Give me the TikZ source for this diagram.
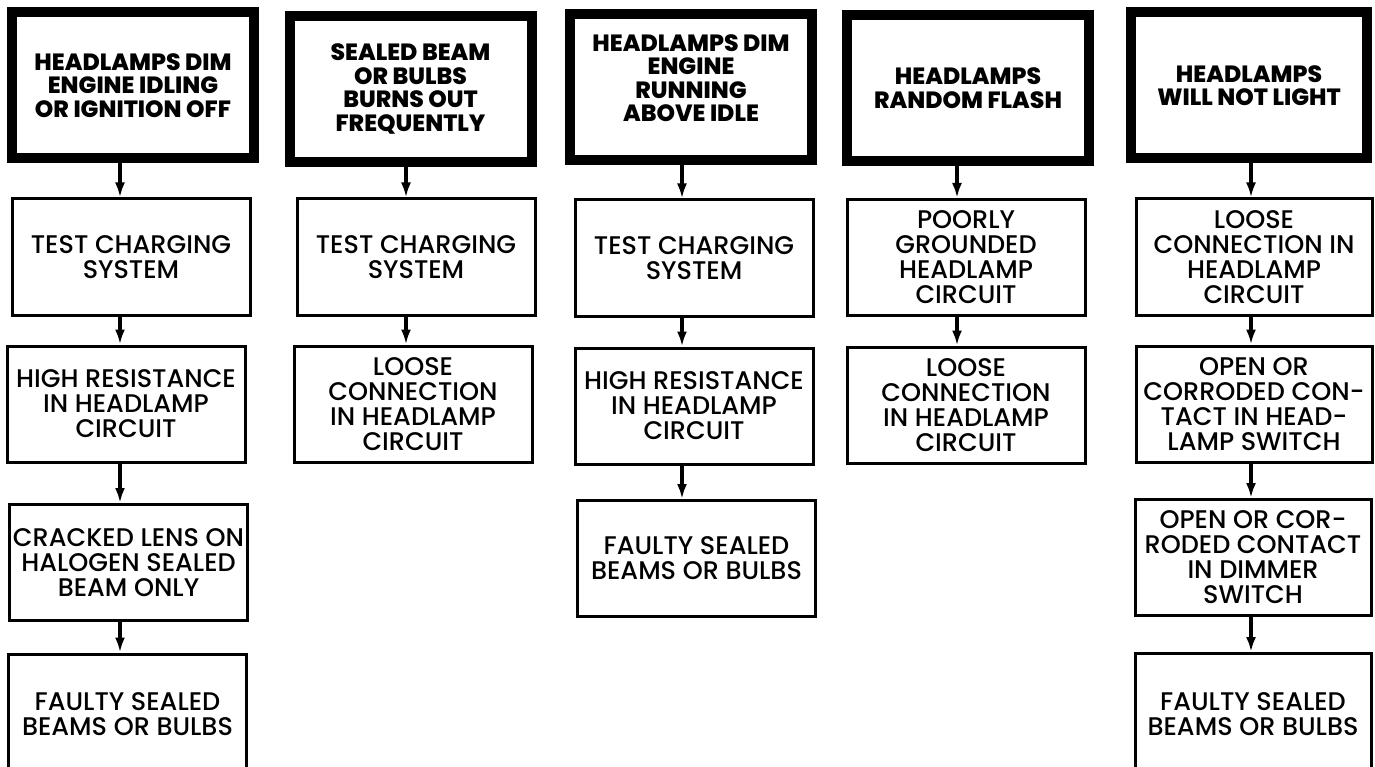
\documentclass[tikz,border=0pt]{standalone}
\usepackage{fontspec}
\setmainfont{Poppins Medium}
\newfontfamily\headfont{Poppins ExtraBold}
\usetikzlibrary{arrows.meta}

\begin{document}
\begin{tikzpicture}[x=1pt,y=-1pt,
    head/.style={draw,line width=10pt,align=center,inner sep=0pt,minimum width=242pt,minimum height=146pt,font=\headfont\fontsize{23.5}{23.5}\selectfont},
    box/.style={draw,line width=3pt,align=center,inner sep=0pt,minimum width=238pt,minimum height=116pt,font=\fontsize{25.5}{25}\selectfont},
    link/.style={line width=3.5pt,-{Latex[length=15pt,width=10pt]}}]
    \useasboundingbox (0,0) rectangle (1375,767);
    \clip (0,0) rectangle (1375,767);
    % column x of the arrows
    \coordinate (x1) at (120,0);
    \coordinate (x2) at (406,0);
    \coordinate (x3) at (682,0);
    \coordinate (x4) at (957,0);
    \coordinate (x5) at (1251,0);
    % headers
    \node[head] (h1) at (133,85.5) {HEADLAMPS DIM\\ENGINE IDLING\\OR IGNITION OFF};
    \node[head] (h2) at (410.5,89) {SEALED BEAM\\OR BULBS\\BURNS OUT\\FREQUENTLY};
    \node[head,text depth=18pt] (h3) at (691,87) {HEADLAMPS DIM\\ENGINE\\RUNNING\\ABOVE IDLE};
    \node[head] (h4) at (968,88) {HEADLAMPS\\RANDOM FLASH};
    \node[head,minimum width=236pt] (h5) at (1249,85.5) {HEADLAMPS\\WILL NOT LIGHT};
    % column 1
    \node[box] (a1) at (131,257) {TEST CHARGING\\SYSTEM};
    \node[box] (b1) at (126,404) {HIGH RESISTANCE\\IN HEADLAMP\\CIRCUIT};
    \node[box] (c1) at (128.5,562.5) {CRACKED LENS ON\\HALOGEN SEALED\\BEAM ONLY};
    \node[box,minimum height=121pt] (d1) at (127.5,714.5) {FAULTY SEALED\\BEAMS OR BULBS};
    % column 2
    \node[box] (a2) at (416,257) {TEST CHARGING\\SYSTEM};
    \node[box] (b2) at (413,404) {LOOSE\\CONNECTION\\IN HEADLAMP\\CIRCUIT};
    % column 3
    \node[box] (a3) at (694,258) {TEST CHARGING\\SYSTEM};
    \node[box] (b3) at (694,406) {HIGH RESISTANCE\\IN HEADLAMP\\CIRCUIT};
    \node[box] (c3) at (696.5,558.5) {FAULTY SEALED\\BEAMS OR BULBS};
    % column 4
    \node[box] (a4) at (966,257.5) {POORLY\\GROUNDED\\HEADLAMP\\CIRCUIT};
    \node[box] (b4) at (966,405) {LOOSE\\CONNECTION\\IN HEADLAMP\\CIRCUIT};
    % column 5
    \node[box,minimum width=236pt] (a5) at (1254,257) {LOOSE\\CONNECTION IN\\HEADLAMP\\CIRCUIT};
    \node[box,minimum width=236pt] (b5) at (1254,404) {OPEN OR\\CORRODED CON-\\TACT IN HEAD-\\LAMP SWITCH};
    \node[box,minimum width=236pt] (c5) at (1253,557.5) {OPEN OR COR-\\RODED CONTACT\\IN DIMMER\\SWITCH};
    \node[box,minimum width=236pt,minimum height=121pt] (d5) at (1253,714) {FAULTY SEALED\\BEAMS OR BULBS};
    % arrows
    \draw[link] (h1.south -| x1) -- (a1.north -| x1);
    \draw[link] (a1.south -| x1) -- (b1.north -| x1);
    \draw[link] (b1.south -| x1) -- (c1.north -| x1);
    \draw[link] (c1.south -| x1) -- (d1.north -| x1);
    \draw[link] (h2.south -| x2) -- (a2.north -| x2);
    \draw[link] (a2.south -| x2) -- (b2.north -| x2);
    \draw[link] (h3.south -| x3) -- (a3.north -| x3);
    \draw[link] (a3.south -| x3) -- (b3.north -| x3);
    \draw[link] (b3.south -| x3) -- (c3.north -| x3);
    \draw[link] (h4.south -| x4) -- (a4.north -| x4);
    \draw[link] (a4.south -| x4) -- (b4.north -| x4);
    \draw[link] (h5.south -| x5) -- (a5.north -| x5);
    \draw[link] (a5.south -| x5) -- (b5.north -| x5);
    \draw[link] (b5.south -| x5) -- (c5.north -| x5);
    \draw[link] (c5.south -| x5) -- (d5.north -| x5);
\end{tikzpicture}
\end{document}
